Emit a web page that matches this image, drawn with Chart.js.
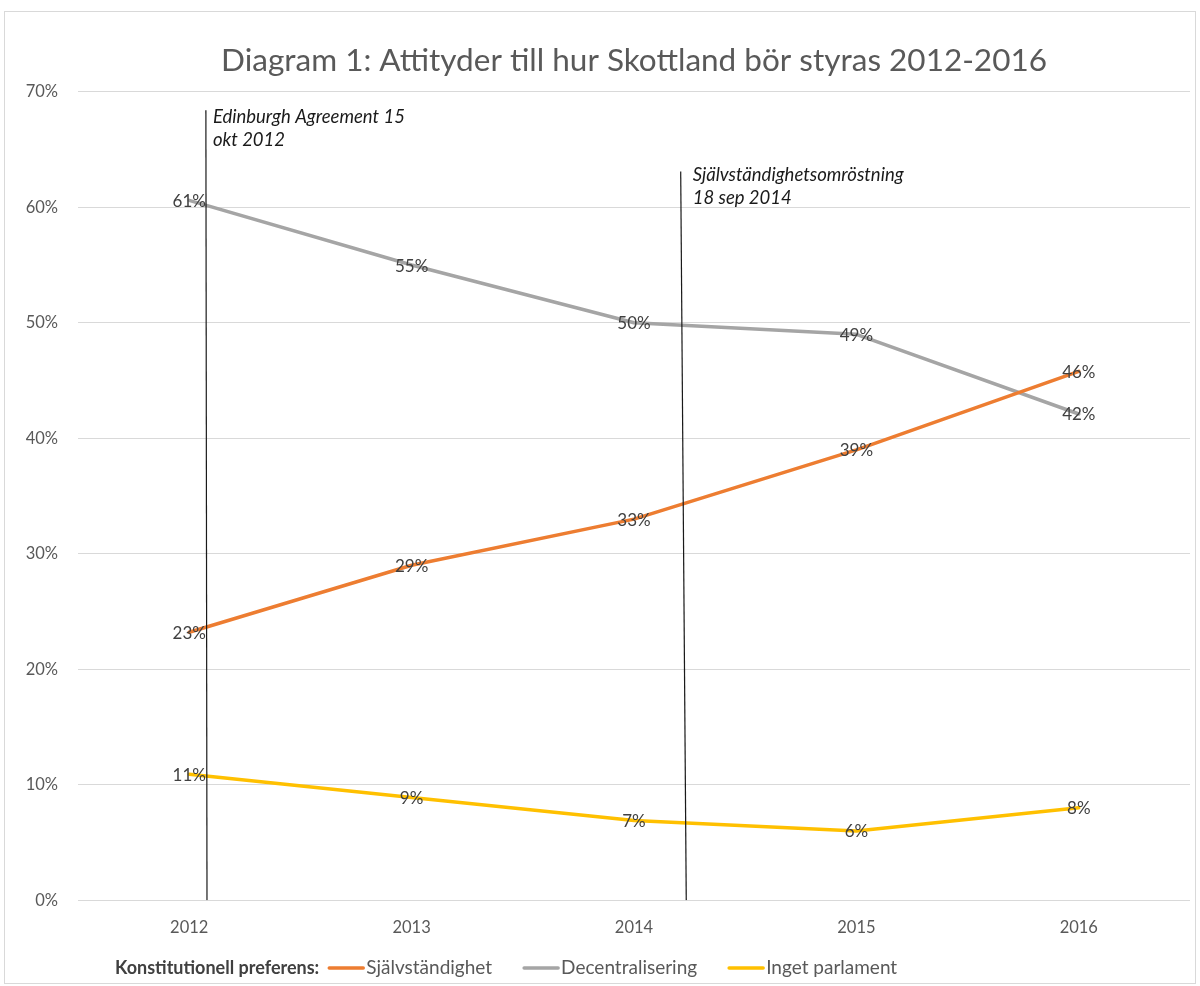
<!DOCTYPE html>
<html><head><meta charset="utf-8">
<script src="https://cdn.jsdelivr.net/npm/chart.js@4.4.0/dist/chart.umd.min.js"></script>
<style>html,body{margin:0;padding:0;background:#fff}#wrap{position:relative;width:1200px;height:986px}</style>
</head><body><div id="wrap"><canvas id="c" width="1200" height="986"></canvas></div>
<script>
const years = ['2012', '2013', '2014', '2015', '2016'];
const sjalvstandighet = [23.2, 29, 33, 39, 45.8];
const decentralisering = [60.6, 55, 50, 49, 42.1];
const ingetParlament = [10.9, 8.9, 6.9, 6, 8];
const seriesNames = ['Självständighet', 'Decentralisering', 'Inget parlament'];
const seriesColors = ['#ED7D31', '#A5A5A5', '#FFC000'];
const yTicks = [0, 10, 20, 30, 40, 50, 60, 70];
const edinburghLineX = [0.075, 0.08];
const edinburghLineY = [68.4, 0];
const folkomrostningLineX = [2.21, 2.235];
const folkomrostningLineY = [63.1, 0];
const annotationTexts = [['Edinburgh Agreement 15', 'okt 2012'], ['Självständighetsomröstning', '18 sep 2014']];
const legendTitle = 'Konstitutionell preferens:';
const chartTitle = 'Diagram 1: Attityder till hur Skottland bör styras 2012-2016';

const FONT = 'Lato, "Open Sans", sans-serif';
const annotationStyle = [{dx: 7, dy: 7}, {dx: 12, dy: 4}];
const toPts = arr => arr.map((v, i) => ({x: i, y: v}));
const toLine = (xs, ys) => xs.map((x, i) => ({x: x, y: ys[i]}));

const seriesData = [sjalvstandighet, decentralisering, ingetParlament];
const datasets = [];
[[edinburghLineX, edinburghLineY], [folkomrostningLineX, folkomrostningLineY]].forEach((l, k) => {
  datasets.push({label: 'annot' + k, data: toLine(l[0], l[1]), borderColor: '#1a1a1a', borderWidth: 1.2,
    pointRadius: 0, isAnnotation: true, annotationText: annotationTexts[k], annotationStyle: annotationStyle[k], order: 0});
});
seriesData.forEach((arr, k) => {
  datasets.push({label: seriesNames[k], data: toPts(arr), borderColor: seriesColors[k], backgroundColor: seriesColors[k],
    borderWidth: 3.5, pointRadius: 0, tension: 0, isSeries: true, order: 1, borderCapStyle: 'round', borderJoinStyle: 'round'});
});

const framePlugin = {
  id: 'frame',
  beforeDraw(chart) {
    const ctx = chart.ctx;
    ctx.save();
    ctx.fillStyle = '#fff';
    ctx.fillRect(0, 0, chart.width, chart.height);
    ctx.strokeStyle = '#d9d9d9';
    ctx.lineWidth = 1;
    ctx.strokeRect(4.5, 11.5, 1191, 972);
    ctx.restore();
  }
};

const labelPlugin = {
  id: 'labels',
  afterDatasetsDraw(chart) {
    const ctx = chart.ctx;
    const xs = chart.scales.x, ys = chart.scales.y;
    ctx.save();
    chart.data.datasets.forEach(ds => {
      if (ds.isSeries) {
        ctx.font = '17px ' + FONT;
        ctx.fillStyle = '#404040';
        ctx.textAlign = 'center';
        ctx.textBaseline = 'middle';
        ds.data.forEach(p => {
          ctx.fillText(Math.round(p.y) + '%', xs.getPixelForValue(p.x), ys.getPixelForValue(p.y) + 1);
        });
      } else if (ds.isAnnotation) {
        ctx.font = 'italic 18.5px ' + FONT;
        ctx.fillStyle = '#1a1a1a';
        ctx.textAlign = 'left';
        ctx.textBaseline = 'middle';
        const top = ds.data[0];
        const px = xs.getPixelForValue(top.x) + ds.annotationStyle.dx;
        const py = ys.getPixelForValue(top.y) + ds.annotationStyle.dy;
        ds.annotationText.forEach((t, i) => ctx.fillText(t, px, py + i * 23));
      }
    });
    ctx.restore();
  }
};

const legendPlugin = {
  id: 'customLegend',
  afterDraw(chart) {
    const ctx = chart.ctx;
    ctx.save();
    const y = 968;
    let x = 115;
    ctx.textBaseline = 'middle';
    ctx.textAlign = 'left';
    ctx.font = 'bold 18px ' + FONT;
    ctx.fillStyle = '#404040';
    ctx.fillText(legendTitle, x, y);
    x += ctx.measureText(legendTitle).width + 8;
    ctx.font = '19px ' + FONT;
    chart.data.datasets.filter(d => d.isSeries).forEach(ds => {
      ctx.strokeStyle = ds.borderColor;
      ctx.lineWidth = 3.5;
      ctx.lineCap = 'round';
      ctx.beginPath();
      ctx.moveTo(x + 2, y);
      ctx.lineTo(x + 36, y);
      ctx.stroke();
      x += 39;
      ctx.fillStyle = '#595959';
      ctx.fillText(ds.label, x, y);
      x += ctx.measureText(ds.label).width + 30;
    });
    ctx.restore();
  }
};

new Chart(document.getElementById('c'), {
  type: 'line',
  data: {datasets: datasets},
  options: {
    responsive: false,
    animation: false,
    layout: {padding: {top: 42, left: 0, right: 10, bottom: 30}},
    scales: {
      x: {
        type: 'linear', min: -0.5, max: 4.5,
        afterBuildTicks: s => { s.ticks = years.map((_, i) => ({value: i})); },
        grid: {display: false, drawTicks: false},
        border: {display: false},
        ticks: {callback: v => years[v], font: {family: FONT, size: 16.5}, color: '#595959', padding: 18, autoSkip: false, maxRotation: 0}
      },
      y: {
        min: 0, max: 70,
        afterBuildTicks: s => { s.ticks = yTicks.map(v => ({value: v})); },
        afterFit: s => { s.width = 78; },
        grid: {color: '#d9d9d9', lineWidth: 1, drawTicks: false},
        border: {display: false},
        ticks: {callback: v => v + '%', font: {family: FONT, size: 16.5}, color: '#595959', padding: 20}
      }
    },
    plugins: {
      legend: {display: false},
      tooltip: {enabled: false},
      title: {display: true, text: chartTitle, fullSize: false, color: '#595959',
        font: {family: FONT, size: 31.5, weight: 'normal'}, padding: {top: 0, bottom: 12}}
    }
  },
  plugins: [framePlugin, labelPlugin, legendPlugin]
});
</script></body></html>
